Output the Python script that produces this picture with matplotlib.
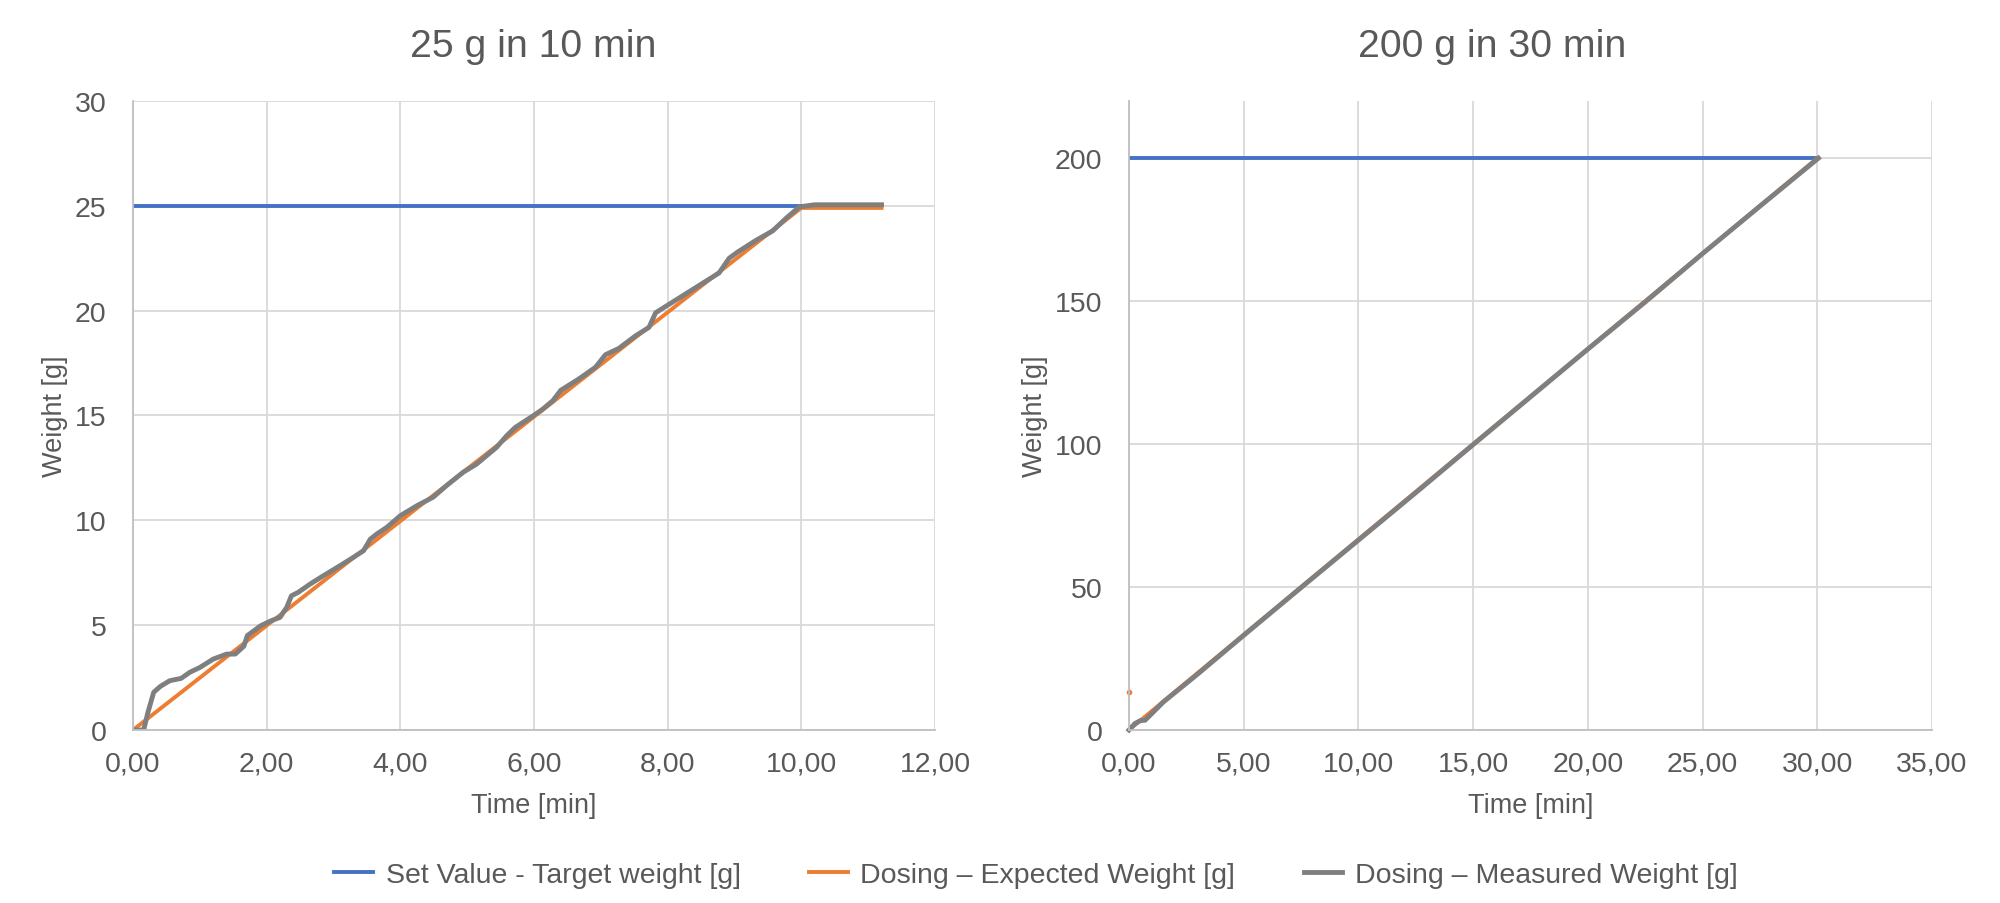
import matplotlib
matplotlib.use("Agg")
import matplotlib.pyplot as plt
from matplotlib.ticker import FuncFormatter, MultipleLocator

plt.rcParams["font.family"] = ["Liberation Sans", "DejaVu Sans"]

TEXT = "#595959"
GRID = "#d9d9d9"
BLUE = "#4472c4"
ORANGE = "#ed7d31"
GRAY = "#7f7f7f"

# --- 25 g in 10 min ---
left_target_t = [0.0, 10.0]
left_target_w = [25.0, 25.0]

left_expected_t = [0.0, 10.0, 11.2]
left_expected_w = [0.0, 24.9, 24.9]

left_measured_t = [0.0, 0.16, 0.22, 0.31, 0.41, 0.55, 0.72, 0.85, 1.0, 1.2,
                   1.4, 1.53, 1.66, 1.71, 1.91, 2.06, 2.20, 2.30, 2.37, 2.47,
                   2.65, 2.85, 3.10, 3.30, 3.45, 3.55, 3.65, 3.80, 4.0, 4.25,
                   4.49, 4.69, 4.94, 5.14, 5.44, 5.59, 5.72, 5.99, 6.13, 6.28,
                   6.40, 6.67, 6.92, 7.07, 7.27, 7.52, 7.72, 7.82, 7.97, 8.17,
                   8.47, 8.77, 8.92, 9.05, 9.32, 9.57, 9.77, 9.97, 10.2, 11.2]
left_measured_w = [0.0, 0.0, 0.8, 1.8, 2.08, 2.35, 2.46, 2.75, 2.98, 3.38,
                   3.62, 3.62, 4.0, 4.5, 4.97, 5.2, 5.37, 5.85, 6.4, 6.56,
                   6.96, 7.36, 7.84, 8.24, 8.55, 9.1, 9.35, 9.67, 10.22, 10.7,
                   11.1, 11.65, 12.29, 12.68, 13.48, 14.03, 14.43, 14.99, 15.3, 15.7,
                   16.2, 16.74, 17.3, 17.9, 18.2, 18.8, 19.2, 19.9, 20.2, 20.6,
                   21.2, 21.8, 22.5, 22.8, 23.35, 23.8, 24.4, 24.95, 25.05, 25.05]

# --- 200 g in 30 min ---
right_target_t = [0.0, 30.0]
right_target_w = [200.0, 200.0]

right_expected_t = [0.0, 30.0]
right_expected_w = [0.0, 200.0]
right_expected_dot_t = [0.0]
right_expected_dot_w = [13.2]

right_measured_t = [0.0, 0.25, 0.5, 0.7, 1.5, 3.0, 5.0, 7.5, 10.0, 12.5,
                    15.0, 17.5, 20.0, 22.5, 25.0, 27.5, 30.05]
right_measured_w = [0.0, 2.2, 3.3, 3.4, 9.8, 19.6, 33.1, 49.8, 66.4, 83.0,
                    99.8, 116.5, 133.2, 149.7, 166.6, 183.2, 200.0]

comma_fmt = FuncFormatter(lambda v, _: f"{v:.2f}".replace(".", ","))


def style_axes(ax, xmax, xstep, ymax, ystep):
    ax.set_xlim(0, xmax)
    ax.set_ylim(0, ymax)
    ax.xaxis.set_major_locator(MultipleLocator(xstep))
    ax.yaxis.set_major_locator(MultipleLocator(ystep))
    ax.xaxis.set_major_formatter(comma_fmt)
    ax.grid(True, color=GRID, lw=1.3)
    ax.set_axisbelow(True)
    for side in ("top", "right"):
        ax.spines[side].set_visible(False)
    for side in ("left", "bottom"):
        ax.spines[side].set_color("#bfbfbf")
        ax.spines[side].set_linewidth(1.3)
    ax.tick_params(length=0, labelsize=20.5, colors=TEXT)
    ax.tick_params(axis="x", pad=15)
    ax.tick_params(axis="y", pad=19)
    ax.set_xlabel("Time [min]", fontsize=19.5, color=TEXT, labelpad=11)
    ax.set_ylabel("Weight [g]", fontsize=19.5, color=TEXT, labelpad=5)


fig = plt.figure(figsize=(20, 9.04), dpi=100)
ax1 = fig.add_axes([0.0665, 0.1914, 0.401, 0.6958])
ax2 = fig.add_axes([0.5645, 0.1914, 0.4015, 0.6958])

ax1.plot(left_target_t, left_target_w, color=BLUE, lw=2.8, label="Set Value - Target weight [g]")
ax1.plot(left_expected_t, left_expected_w, color=ORANGE, lw=2.8, label="Dosing \u2013 Expected Weight [g]")
ax1.plot(left_measured_t, left_measured_w, color=GRAY, lw=3.5, label="Dosing \u2013 Measured Weight [g]")
style_axes(ax1, 12, 2, 30, 5)

ax2.plot(right_target_t, right_target_w, color=BLUE, lw=2.8)
ax2.plot(right_expected_t, right_expected_w, color=ORANGE, lw=2.8)
ax2.plot(right_expected_dot_t, right_expected_dot_w, "o", color=ORANGE, ms=3, clip_on=False)
ax2.plot(right_measured_t, right_measured_w, color=GRAY, lw=3.5, clip_on=False)
style_axes(ax2, 35, 5, 220, 50)
ax2.set_yticks([0, 50, 100, 150, 200])

fig.text(0.2665, 0.948, "25 g in 10 min", ha="center", va="center", fontsize=28.3, color=TEXT)
fig.text(0.746, 0.948, "200 g in 30 min", ha="center", va="center", fontsize=28.3, color=TEXT)

fig.legend(loc="center", bbox_to_anchor=(0.518, 0.031), ncol=3, frameon=False,
           fontsize=20.5, labelcolor=TEXT, handlelength=1.35, handletextpad=0.45,
           columnspacing=2.4)

fig.savefig("out.png", dpi=100, facecolor="white")
